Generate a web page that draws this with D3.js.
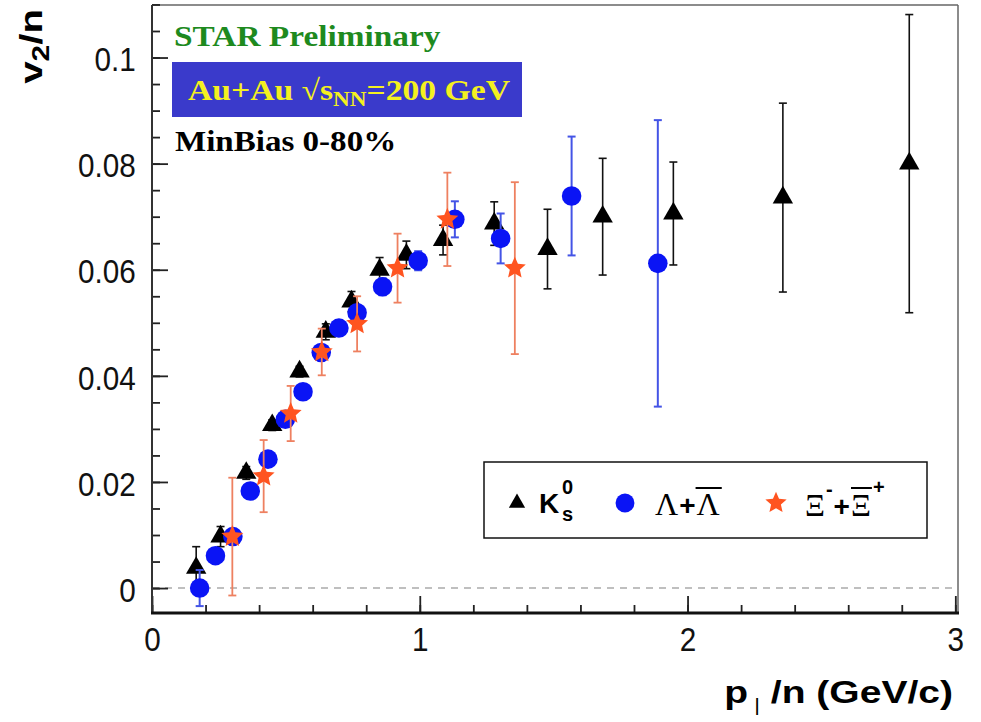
<!DOCTYPE html>
<html>

<head>
  <meta charset="utf-8">
  <title>v2/n vs pT/n</title>
  <script src="https://cdn.jsdelivr.net/npm/d3@7"></script>
  <style>
    body {
      margin: 0;
      background: white;
    }
  </style>
</head>

<body>
  <script>

    // K0s (triangles)
    const kPt = [0.165, 0.256, 0.352, 0.449, 0.551, 0.649, 0.745, 0.850, 0.950, 1.087, 1.278, 1.477, 1.683, 1.947, 2.356, 2.828];
    const kV2 = [0.0038, 0.0097, 0.0217, 0.0307, 0.0408, 0.0483, 0.0540, 0.0600, 0.0628, 0.0656, 0.0687, 0.0639, 0.0700, 0.0706, 0.0736, 0.0800];
    const kErr = [0.0040, 0.0019, 0.0012, 0.0010, 0.0010, 0.0015, 0.0019, 0.0023, 0.0026, 0.0028, 0.0041, 0.0075, 0.0110, 0.0097, 0.0178, 0.0281];

    // Lambda + anti-Lambda (circles)
    const lPt = [0.178, 0.237, 0.302, 0.367, 0.433, 0.498, 0.564, 0.632, 0.698, 0.766, 0.861, 0.994, 1.131, 1.302, 1.567, 1.889];
    const lV2 = [0.0000, 0.0061, 0.0097, 0.0183, 0.0243, 0.0318, 0.0370, 0.0444, 0.0490, 0.0519, 0.0568, 0.0617, 0.0695, 0.0659, 0.0739, 0.0612];
    const lErr = [0.0034, 0.0012, 0.0012, 0.0010, 0.0010, 0.0010, 0.0010, 0.0012, 0.0012, 0.0014, 0.0016, 0.0018, 0.0034, 0.0047, 0.0112, 0.0270];

    // Xi + anti-Xi (stars)
    const xPt = [0.300, 0.417, 0.518, 0.634, 0.766, 0.917, 1.103, 1.355];
    const xV2 = [0.0097, 0.0211, 0.0329, 0.0445, 0.0498, 0.0603, 0.0695, 0.0603];
    const xErr = [0.0111, 0.0068, 0.0052, 0.0044, 0.0052, 0.0065, 0.0088, 0.0162];

    // tick labels
    const xTickValues = [0, 1, 2, 3];
    const xTickLabels = ["0", "1", "2", "3"];
    const yTickValues = [0, 0.02, 0.04, 0.06, 0.08, 0.1];
    const yTickLabels = ["0", "0.02", "0.04", "0.06", "0.08", "0.1"];

    const w = 981;
    const h = 722;
    const frame = { left: 152, right: 958, top: 5, bottom: 613 };

    const svg = d3.select("body")
      .append("svg")
      .attr("width", w)
      .attr("height", h);

    const xScale = d3.scaleLinear()
      .domain([0, 3.01])
      .range([frame.left, frame.right]);

    const yScale = d3.scaleLinear()
      .domain([-0.0047, 0.1099])
      .range([frame.bottom, frame.top]);

    const sans = "'Liberation Sans', Arial, sans-serif";
    const serif = "'Liberation Serif', 'Times New Roman', serif";

    // fat five-pointed star like the ROOT marker
    const fatStar = {
      draw: function (context, size) {
        const r = Math.sqrt(size);
        const ri = r * 0.46;
        for (let i = 0; i < 10; i++) {
          const a = -Math.PI / 2 + i * Math.PI / 5;
          const rr = i % 2 === 0 ? r : ri;
          if (i === 0) context.moveTo(rr * Math.cos(a), rr * Math.sin(a));
          else context.lineTo(rr * Math.cos(a), rr * Math.sin(a));
        }
        context.closePath();
      }
    };

    // frame: thin top/right
    svg.append("line").attr("x1", frame.left).attr("x2", frame.right).attr("y1", frame.top).attr("y2", frame.top)
      .attr("stroke", "#666").attr("stroke-width", 1.5);
    svg.append("line").attr("x1", frame.right).attr("x2", frame.right).attr("y1", frame.top).attr("y2", frame.bottom)
      .attr("stroke", "#666").attr("stroke-width", 1.5);

    // zero line
    svg.append("line")
      .attr("x1", frame.left).attr("x2", frame.right)
      .attr("y1", yScale(0)).attr("y2", yScale(0))
      .attr("stroke", "#aaa").attr("stroke-width", 1.5)
      .attr("stroke-dasharray", "7,6");

    // y axis minor + major ticks (pointing inward)
    const yMinor = svg.append("g")
      .attr("transform", `translate(${frame.left},0)`)
      .call(d3.axisLeft(yScale).tickValues(d3.range(0, 0.1101, 0.005)).tickSize(-8).tickFormat(""));
    const yMajor = svg.append("g")
      .attr("transform", `translate(${frame.left},0)`)
      .call(d3.axisLeft(yScale).tickValues(yTickValues).tickSize(-16).tickPadding(18)
        .tickFormat((d, i) => yTickLabels[i]));

    // x axis minor + major ticks
    const xMinor = svg.append("g")
      .attr("transform", `translate(0,${frame.bottom})`)
      .call(d3.axisBottom(xScale).tickValues(d3.range(0, 3.001, 0.2)).tickSize(-8).tickFormat(""));
    const xMajor = svg.append("g")
      .attr("transform", `translate(0,${frame.bottom})`)
      .call(d3.axisBottom(xScale).tickValues(xTickValues).tickSize(-17).tickPadding(15)
        .tickFormat((d, i) => xTickLabels[i]));

    [yMinor, yMajor, xMinor, xMajor].forEach(function (g) {
      g.select(".domain").remove();
      g.selectAll(".tick line").attr("stroke", "#222").attr("stroke-width", 1.8);
      g.selectAll(".tick text")
        .attr("font-family", sans)
        .attr("font-size", "33px")
        .attr("fill", "#111");
    });
    yMajor.selectAll(".tick text").attr("dy", "0.4em").attr("transform", "scale(0.9,1)");
    xMajor.selectAll(".tick text").attr("transform", "scale(0.9,1)")
      .attr("x", 0);

    // left and bottom axis lines
    svg.append("line").attr("x1", frame.left).attr("x2", frame.left).attr("y1", frame.top).attr("y2", frame.bottom + 1)
      .attr("stroke", "#333").attr("stroke-width", 2);
    svg.append("line").attr("x1", frame.left - 1).attr("x2", frame.right + 1).attr("y1", frame.bottom).attr("y2", frame.bottom)
      .attr("stroke", "#111").attr("stroke-width", 3);

    // series
    const series = [
      { pt: kPt, v2: kV2, err: kErr, symbol: d3.symbolTriangle, size: 180, color: "#000", errColor: "#111", errWidth: 1.6 },
      { pt: lPt, v2: lV2, err: lErr, symbol: d3.symbolCircle, size: 300, color: "#0a14f5", errColor: "#4454e6", errWidth: 2 },
      { pt: xPt, v2: xV2, err: xErr, symbol: fatStar, size: 132, color: "#ff5420", errColor: "#ee8060", errWidth: 1.8 }
    ];

    series.forEach(function (s) {
      const rows = s.pt.map(function (p, i) {
        return { pt: p, v2: s.v2[i], err: s.err[i] };
      });
      const g = svg.append("g");

      const eb = g.selectAll("g.err")
        .data(rows)
        .enter()
        .append("g")
        .attr("class", "err")
        .attr("stroke", s.errColor)
        .attr("stroke-width", s.errWidth);
      eb.append("line")
        .attr("x1", d => xScale(d.pt)).attr("x2", d => xScale(d.pt))
        .attr("y1", d => yScale(d.v2 - d.err)).attr("y2", d => yScale(d.v2 + d.err));
      eb.append("line")
        .attr("x1", d => xScale(d.pt) - 4).attr("x2", d => xScale(d.pt) + 4)
        .attr("y1", d => yScale(d.v2 - d.err)).attr("y2", d => yScale(d.v2 - d.err));
      eb.append("line")
        .attr("x1", d => xScale(d.pt) - 4).attr("x2", d => xScale(d.pt) + 4)
        .attr("y1", d => yScale(d.v2 + d.err)).attr("y2", d => yScale(d.v2 + d.err));

      g.selectAll("path.marker")
        .data(rows)
        .enter()
        .append("path")
        .attr("class", "marker")
        .attr("d", d3.symbol().type(s.symbol).size(s.size))
        .attr("transform", d => `translate(${xScale(d.pt)},${yScale(d.v2)})`)
        .attr("fill", s.color);
    });

    // header texts (stretched like the original)
    svg.append("text")
      .attr("transform", "translate(174,46) scale(1.15,1)")
      .attr("font-family", serif).attr("font-weight", "bold").attr("font-size", "29px")
      .attr("fill", "#1e8a1e")
      .text("STAR Preliminary");

    svg.append("rect")
      .attr("x", 172).attr("y", 62).attr("width", 350).attr("height", 55)
      .attr("fill", "#3a3acb");
    const au = svg.append("text")
      .attr("transform", "translate(188,100) scale(1.16,1)")
      .attr("font-family", serif).attr("font-weight", "bold").attr("font-size", "29px")
      .attr("fill", "#f4f020");
    au.append("tspan").text("Au+Au √s");
    au.append("tspan").attr("font-size", "20px").attr("dy", 6).text("NN");
    au.append("tspan").attr("dy", -6).text("=200 GeV");

    svg.append("text")
      .attr("transform", "translate(175,151) scale(1.14,1)")
      .attr("font-family", serif).attr("font-weight", "bold").attr("font-size", "29px")
      .attr("fill", "#000")
      .text("MinBias 0-80%");

    // axis titles
    const yt = svg.append("text")
      .attr("transform", "translate(42,9) rotate(-90) scale(1.3,1)")
      .attr("text-anchor", "end")
      .attr("font-family", sans).attr("font-weight", "bold").attr("font-size", "31px")
      .attr("fill", "#000");
    yt.append("tspan").text("v");
    yt.append("tspan").attr("font-size", "23px").attr("dy", 7).text("2");
    yt.append("tspan").attr("dy", -7).text("/n");

    const xt = svg.append("text")
      .attr("transform", "translate(953,703) scale(1.22,1)")
      .attr("text-anchor", "end")
      .attr("font-family", sans).attr("font-weight", "bold").attr("font-size", "32px")
      .attr("fill", "#000");
    xt.append("tspan").text("p");
    xt.append("tspan").attr("font-size", "18px").attr("font-weight", "normal").attr("dy", 8).text(" |");
    xt.append("tspan").attr("dy", -8).text(" /n (GeV/c)");

    // legend
    svg.append("rect")
      .attr("x", 484).attr("y", 462).attr("width", 443).attr("height", 76)
      .attr("fill", "white").attr("stroke", "#111").attr("stroke-width", 1.5);

    const legY = 503;
    const legendMarkers = [
      { x: 517, symbol: d3.symbolTriangle, size: 115, color: "#000" },
      { x: 625, symbol: d3.symbolCircle, size: 280, color: "#0a14f5" },
      { x: 776, symbol: fatStar, size: 125, color: "#ff5420" }
    ];
    svg.selectAll("path.legmark")
      .data(legendMarkers)
      .enter()
      .append("path")
      .attr("class", "legmark")
      .attr("d", d => d3.symbol().type(d.symbol).size(d.size)())
      .attr("transform", d => `translate(${d.x},${legY})`)
      .attr("fill", d => d.color);

    function put(x, y, str, font, size, weight) {
      return svg.append("text")
        .attr("x", x).attr("y", y)
        .attr("font-family", font).attr("font-size", size + "px")
        .attr("font-weight", weight || "normal")
        .attr("fill", "#000")
        .text(str);
    }

    // K0s label
    put(539, 513, "K", sans, 28, "bold");
    put(562, 521, "s", sans, 20, "bold");
    put(562, 494, "0", sans, 20, "bold");

    // Lambda + anti-Lambda
    let t = put(655, 515, "Λ", serif, 32);
    let xx = 655 + t.node().getComputedTextLength() + 1;
    t = put(xx, 515, "+", sans, 28, "bold");
    xx += t.node().getComputedTextLength() + 1;
    t = put(xx, 515, "Λ", serif, 32);
    let tw = t.node().getComputedTextLength();
    svg.append("line").attr("x1", xx - 1).attr("x2", xx + tw + 2).attr("y1", 488).attr("y2", 488)
      .attr("stroke", "#000").attr("stroke-width", 2);

    // Xi- + anti-Xi+
    t = put(805, 516, "Ξ", serif, 31);
    xx = 805 + t.node().getComputedTextLength();
    t = put(xx + 1, 496, "-", sans, 20, "bold");
    xx += t.node().getComputedTextLength() + 2;
    t = put(xx, 516, "+", sans, 28, "bold");
    xx += t.node().getComputedTextLength() + 1;
    t = put(xx, 516, "Ξ", serif, 31);
    tw = t.node().getComputedTextLength();
    svg.append("line").attr("x1", xx).attr("x2", xx + tw + 1).attr("y1", 488).attr("y2", 488)
      .attr("stroke", "#000").attr("stroke-width", 2);
    put(xx + tw + 2, 494, "+", sans, 20, "bold");

  </script>
</body>

</html>
